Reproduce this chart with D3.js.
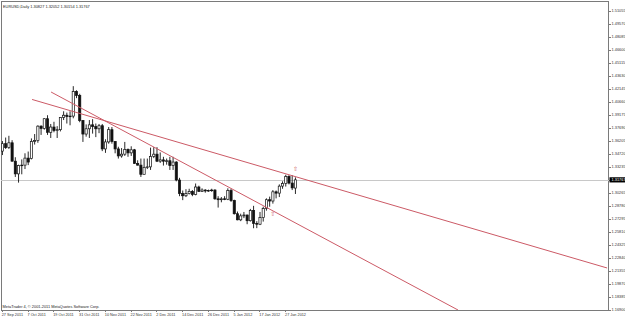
<!DOCTYPE html>
<html><head><meta charset="utf-8">
<script src="https://cdn.jsdelivr.net/npm/d3@7"></script>
<style>html,body{margin:0;padding:0;background:#fff;overflow:hidden}</style>
</head><body><svg id="c" width="625" height="318"></svg>
<script>
const titleText = "EURUSD,Daily  1.30827 1.32052 1.30154 1.31767";
const copyrightText = "MetaTrader 4, © 2001-2011 MetaQuotes Software Corp.";

const openP = [1.3505,1.3590,1.3545,1.3600,1.3390,1.3245,1.3340,1.3345,1.3425,1.3420,
1.3615,1.3625,1.3790,1.3765,1.3875,1.3720,1.3780,1.3740,1.3750,1.3890,
1.3915,1.3900,1.3905,1.4185,1.4140,1.3855,1.3700,1.3760,1.3805,1.3785,
1.3760,1.3795,1.3530,1.3610,1.3750,1.3615,1.3530,1.3450,1.3470,1.3525,
1.3485,1.3520,1.3365,1.3345,1.3240,1.3320,1.3325,1.3445,1.3470,1.3390,
1.3405,1.3390,1.3395,1.3340,1.3380,1.3175,1.3020,1.2995,1.3020,1.3045,
1.3010,1.3095,1.3045,1.3060,1.3050,1.3055,1.3060,1.2960,1.2950,1.2960,
1.2955,1.3055,1.2940,1.2790,1.2720,1.2765,1.2775,1.2710,1.2825,1.2680,
1.2670,1.2745,1.2850,1.2950,1.2935,1.3040,1.3025,1.3105,1.3135,1.3215,
1.3140,1.30827];
const highP = [1.3620,1.3660,1.3680,1.3630,1.3435,1.3350,1.3410,1.3480,1.3500,1.3650,
1.3700,1.3800,1.3800,1.3880,1.3915,1.3815,1.3840,1.3790,1.3890,1.3960,
1.3945,1.3960,1.4247,1.4200,1.4160,1.3860,1.3810,1.3860,1.3870,1.3820,
1.3815,1.3815,1.3640,1.3780,1.3780,1.3620,1.3555,1.3540,1.3610,1.3535,
1.3560,1.3530,1.3400,1.3420,1.3420,1.3420,1.3545,1.3550,1.3550,1.3490,
1.3440,1.3420,1.3440,1.3440,1.3390,1.3200,1.3055,1.3070,1.3075,1.3060,
1.3135,1.3110,1.3080,1.3070,1.3065,1.3075,1.3070,1.2990,1.2980,1.2990,
1.3080,1.3075,1.2950,1.2815,1.2790,1.2810,1.2780,1.2845,1.2880,1.2705,
1.2810,1.2870,1.2965,1.2985,1.3060,1.3055,1.3125,1.3160,1.3235,1.3230,
1.3230,1.32052];
const lowP = [1.3460,1.3530,1.3530,1.3385,1.3210,1.3145,1.3240,1.3300,1.3345,1.3410,
1.3580,1.3600,1.3690,1.3750,1.3690,1.3655,1.3720,1.3655,1.3730,1.3860,
1.3820,1.3800,1.3880,1.4110,1.3835,1.3610,1.3670,1.3655,1.3705,1.3665,
1.3710,1.3505,1.3485,1.3590,1.3590,1.3480,1.3420,1.3430,1.3450,1.3440,
1.3450,1.3360,1.3340,1.3210,1.3240,1.3300,1.3290,1.3425,1.3380,1.3370,
1.3340,1.3350,1.3290,1.3290,1.3160,1.2990,1.2945,1.2980,1.3010,1.2990,
1.3000,1.3040,1.3040,1.3030,1.3040,1.3040,1.2950,1.2860,1.2920,1.2945,
1.2945,1.2925,1.2780,1.2715,1.2705,1.2740,1.2670,1.2700,1.2624,1.2625,
1.2660,1.2700,1.2825,1.2870,1.2905,1.2965,1.2980,1.3075,1.3100,1.3125,
1.3060,1.30154];
const closeP = [1.3590,1.3545,1.3600,1.3390,1.3245,1.3340,1.3345,1.3425,1.3380,1.3615,
1.3625,1.3790,1.3765,1.3875,1.3720,1.3780,1.3740,1.3750,1.3890,1.3915,
1.3900,1.3905,1.4185,1.4140,1.3855,1.3700,1.3760,1.3805,1.3785,1.3760,
1.3795,1.3530,1.3610,1.3750,1.3615,1.3530,1.3450,1.3470,1.3525,1.3485,
1.3520,1.3365,1.3345,1.3240,1.3320,1.3325,1.3445,1.3470,1.3390,1.3405,
1.3390,1.3395,1.3340,1.3380,1.3175,1.3020,1.2995,1.3020,1.3045,1.3010,
1.3095,1.3045,1.3060,1.3050,1.3055,1.3060,1.2960,1.2950,1.2960,1.2955,
1.3055,1.2940,1.2790,1.2720,1.2765,1.2775,1.2710,1.2825,1.2680,1.2670,
1.2745,1.2850,1.2950,1.2935,1.3040,1.3025,1.3105,1.3135,1.3215,1.3140,
1.3085,1.31767];

const dateTickIndex = [0,8,16,24,32,40,48,56,64,72,80,88];
const dateTickLabels = ["27 Sep 2011","7 Oct 2011","19 Oct 2011","31 Oct 2011","10 Nov 2011","22 Nov 2011",
  "2 Dec 2011","14 Dec 2011","26 Dec 2011","5 Jan 2012","17 Jan 2012","27 Jan 2012"];
const priceTickLabels = ["1.16900","1.18385","1.19870","1.21355","1.22840","1.24325","1.25810","1.27295",
  "1.28780","1.30265","1.31750","1.33235","1.34720","1.36205","1.37690","1.39175","1.40660","1.42145",
  "1.43630","1.45115","1.46600","1.48085","1.49570","1.51055"];
const lastPrice = 1.31767;

const trend1Index = [9.2, 187.8];
const trend1Price = [1.4095, 1.2170];
const trend2Index = [15.1, 141.5];
const trend2Price = [1.4180, 1.1690];

const arrowIndex = [91, 84];
const arrowPrice = [1.3301, 1.2787];

const svg = d3.select("#c");
const L = 1, R = 609, T = 1, B = 310;
const x = d3.scaleLinear().domain([-0.45, 188.4]).range([L, R]);
const y = d3.scaleLinear().domain([1.169, 1.52198]).range([B, T]);
const font = "'Liberation Sans', Arial, sans-serif";

svg.append("rect").attr("width",625).attr("height",318).attr("fill","#fff");
svg.append("defs").append("clipPath").attr("id","pc").append("rect")
  .attr("x",L).attr("y",T).attr("width",R-L).attr("height",B-T);

// frame
svg.append("rect").attr("x",L+0.5).attr("y",T+0.5).attr("width",R-L-1).attr("height",B-T)
  .attr("fill","none").attr("stroke","#7a7a7a").attr("stroke-width",1);

const plot = svg.append("g").attr("clip-path","url(#pc)");

// current price line
plot.append("line").attr("x1",L).attr("x2",R).attr("y1",Math.round(y(lastPrice))+0.5).attr("y2",Math.round(y(lastPrice))+0.5)
  .attr("stroke","#c8c8c8").attr("stroke-width",1);

// candles
const idx = d3.range(openP.length);
const cg = plot.append("g");
cg.selectAll("line.w").data(idx).join("line").attr("class","w")
  .attr("x1",i=>x(i)).attr("x2",i=>x(i))
  .attr("y1",i=>y(highP[i])).attr("y2",i=>y(lowP[i]))
  .attr("stroke","#111").attr("stroke-width",0.9);
cg.selectAll("rect.b").data(idx).join("rect").attr("class","b")
  .attr("x",i=>x(i)-1.1).attr("width",2.2)
  .attr("y",i=>y(Math.max(openP[i],closeP[i])))
  .attr("height",i=>Math.max(0.6,Math.abs(y(openP[i])-y(closeP[i]))))
  .attr("fill",i=>closeP[i]>=openP[i]?"#fff":"#111")
  .attr("stroke","#111").attr("stroke-width",0.7);

// trend lines
const lineCol = "#cc5a66";
plot.append("line").attr("x1",x(trend1Index[0])).attr("y1",y(trend1Price[0]))
  .attr("x2",x(trend1Index[1])).attr("y2",y(trend1Price[1]))
  .attr("stroke",lineCol).attr("stroke-width",1);
plot.append("line").attr("x1",x(trend2Index[0])).attr("y1",y(trend2Price[0]))
  .attr("x2",x(trend2Index[1])).attr("y2",y(trend2Price[1]))
  .attr("stroke",lineCol).attr("stroke-width",1);

// arrows
plot.selectAll("text.ar").data(d3.range(arrowIndex.length)).join("text").attr("class","ar")
  .attr("x",i=>x(arrowIndex[i])).attr("y",i=>y(arrowPrice[i])+2.5)
  .attr("text-anchor","middle").attr("font-family","'DejaVu Sans', sans-serif")
  .attr("font-size",6).attr("fill",lineCol).text("⇧");

// y axis labels
const yg = svg.append("g");
yg.selectAll("line").data(priceTickLabels).join("line")
  .attr("x1",R).attr("x2",R+2).attr("y1",d=>Math.round(y(+d))+0.5).attr("y2",d=>Math.round(y(+d))+0.5)
  .attr("stroke","#7a7a7a");
yg.selectAll("text").data(priceTickLabels).join("text")
  .attr("x",R+2.5).attr("y",d=>y(+d)+1.4)
  .attr("font-family",font).attr("font-size",3.9).attr("fill","#333").text(d=>d);

// last price label
const ly = y(lastPrice);
svg.append("rect").attr("x",R+0.5).attr("y",ly-2.6).attr("width",625-R).attr("height",5.2).attr("fill","#000");
svg.append("text").attr("x",R+2.5).attr("y",ly+1.4).attr("font-family",font).attr("font-size",3.9)
  .attr("fill","#fff").text(lastPrice.toFixed(5));

// x axis labels
const xg = svg.append("g");
xg.selectAll("line").data(dateTickIndex).join("line")
  .attr("x1",i=>Math.round(x(i)-0.7)+0.5).attr("x2",i=>Math.round(x(i)-0.7)+0.5)
  .attr("y1",B).attr("y2",B+2).attr("stroke","#7a7a7a");
xg.selectAll("text").data(dateTickIndex).join("text")
  .attr("x",i=>x(i)-0.7).attr("y",315.5)
  .attr("font-family",font).attr("font-size",3.8).attr("fill","#333")
  .text((d,k)=>dateTickLabels[k]);

// title & copyright
svg.append("text").attr("x",3).attr("y",8).attr("font-family",font).attr("font-size",3.9)
  .attr("fill","#222").text(titleText);
svg.append("text").attr("x",2.5).attr("y",307.5).attr("font-family",font).attr("font-size",3.9)
  .attr("fill","#222").text(copyrightText);
</script>
</body></html>
